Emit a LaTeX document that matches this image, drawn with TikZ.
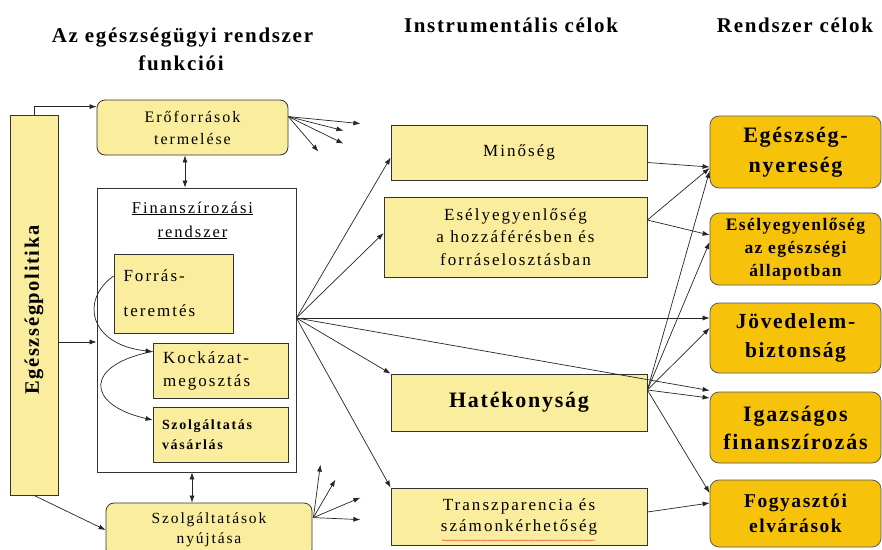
\documentclass[tikz,border=0pt]{standalone}
\usepackage{fontspec}
\setmainfont{Liberation Serif}
\newfontfamily\lsf{Liberation Serif}[LetterSpace=12]
\newfontfamily\lsb{Liberation Serif}[LetterSpace=8]
\usetikzlibrary{arrows.meta,calc,decorations.pathmorphing}
\definecolor{lyel}{RGB}{250,237,158}
\definecolor{goldy}{RGB}{247,194,10}
\newcommand\myfs[2]{\fontsize{#1}{#2}\selectfont}
\begin{document}
\begin{tikzpicture}[x=1pt,y=-1pt,
  ybox/.style={draw=black!80, fill=lyel, line width=0.8pt, inner sep=0pt, align=center},
  rybox/.style={ybox, rounded corners=8pt},
  gbox/.style={draw=black!65, fill=goldy, line width=0.8pt, rounded corners=9pt, inner sep=0pt, align=center},
  arr/.style={-{Latex[length=7pt,width=5pt]}, line width=0.7pt, draw=black!85},
  darr/.style={{Latex[length=7pt,width=5pt]}-{Latex[length=7pt,width=5pt]}, line width=0.7pt, draw=black!85},
  ttl/.style={font=\lsb\bfseries\myfs{21}{26}, inner sep=0pt, anchor=base},
  plain/.style={inner sep=0pt, anchor=base}]
\useasboundingbox (0,0) rectangle (882,549);
\clip (0,0) rectangle (882,549);
\fill[white] (0,0) rectangle (882,549);

% titles
\node[ttl] (t1a) at (182.5,42) {Az egészségügyi rendszer};
\node[ttl] (t1b) at (181,70) {funkciói};
\node[ttl] (t2) at (511,32) {Instrumentális célok};
\node[ttl] (t3) at (795,32) {Rendszer célok};

% left column
\node[ybox, minimum width=48, minimum height=380] (pol) at (34,305) {};
\node[rotate=90, inner sep=0pt, font=\lsb\bfseries\myfs{20.5}{24}] (poltxt) at ($(pol.center)+(0,5)$) {Egészségpolitika};

\node[rybox, minimum width=191, minimum height=55, font=\lsf\myfs{16}{22}] (ero) at (192.5,127.5) {Erőforrások\\termelése};

\node[draw=black!80, fill=white, line width=0.8pt, minimum width=199, minimum height=284, inner sep=0pt] (fin) at (196.5,330) {};
\node[plain, font=\lsf\myfs{16.5}{24}] (fint1) at (192.5,213) {\underline{Finanszírozási}};
\node[plain, font=\lsf\myfs{16.5}{24}] (fint2) at (192.5,237) {\underline{rendszer}};

\node[ybox, minimum width=119, minimum height=79, align=left, text width=100, font=\lsf\myfs{17}{35}] (forr) at (173.5,293.5) {Forrás-\\teremtés};
\node[ybox, minimum width=135, minimum height=55, align=left, text width=115, font=\lsf\myfs{17}{23}] (kock) at (220.5,370.5) {Kockázat-\\megosztás};
\node[ybox, minimum width=135, minimum height=55, align=left, text width=117, font=\lsf\bfseries\myfs{14}{20}] (szv) at (220.5,434.5) {Szolgáltatás\\vásárlás};

\node[rybox, minimum width=206, minimum height=54, font=\lsf\myfs{15.5}{20}] (szny) at (209,530) {Szolgáltatások\\nyújtása};

% instrumental goals
\node[ybox, minimum width=256, minimum height=55, font=\lsf\myfs{17}{22}] (min) at (519,152.5) {Minőség};
\node[ybox, minimum width=263, minimum height=80, font=\lsf\myfs{17}{22.5}] (esi) at (515.5,237) {Esélyegyenlőség\\a hozzáférésben és\\forráselosztásban};
\node[ybox, minimum width=256, minimum height=57, font=\lsb\bfseries\myfs{22}{26}] (hat) at (519,402.5) {Hatékonyság};
\node[ybox, minimum width=256, minimum height=57, font=\lsf\myfs{17}{21}] (tra) at (519,516.5) {Transzparencia és\\számonkérhetőség};

% system goals
\node[gbox, minimum width=171, minimum height=72, font=\lsb\bfseries\myfs{22}{30}] (eg) at (795.5,152) {Egészség-\\nyereség};
\node[gbox, minimum width=171, minimum height=72, font=\lsb\bfseries\myfs{17.5}{23}] (esa) at (795.5,249) {Esélyegyenlőség\\az egészségi\\állapotban};
\node[gbox, minimum width=171, minimum height=70, font=\lsb\bfseries\myfs{21.5}{29}] (jov) at (795.5,338) {Jövedelem-\\biztonság};
\node[gbox, minimum width=171, minimum height=71, font=\lsb\bfseries\myfs{22}{28}] (iga) at (795.5,427.5) {Igazságos\\finanszírozás};
\node[gbox, minimum width=171, minimum height=67, font=\lsb\bfseries\myfs{19.5}{25}] (fog) at (795.5,513.5) {Fogyasztói\\elvárások};

% spell-check wave
\draw[red!75, line width=0.45pt, decorate, decoration={snake, amplitude=0.7pt, segment length=3pt}]
  ($(tra.south)+(-77,-5)$) -- ($(tra.south)+(76,-5)$);

% connectors from health policy
\draw[arr] (pol.north) |- ($(ero.north west)+(0,7)$);
\draw[arr] ($(pol.east)+(0,37)$) -- ($(fin.west)+(0,12)$);
\draw[arr] (pol.south) -- (szny.west);

% double arrows
\draw[darr] ([xshift=-7.5pt]ero.south) -- ([xshift=-7.5pt]ero.south |- fin.north);
\draw[darr] ([xshift=-4.5pt]fin.south) -- ([xshift=-4.5pt]fin.south |- szny.north);

% fans from resource production
\coordinate (eroO) at ($(ero.north east)+(0,17)$);
\coordinate (e1) at ($(eroO)+(72,7)$);
\coordinate (e2) at ($(eroO)+(55,14)$);
\coordinate (e3) at ($(eroO)+(55,27)$);
\coordinate (e4) at ($(eroO)+(30,35)$);
\foreach \t in {e1,e2,e3,e4} \draw[arr] (eroO) -- (\t);

% fans from service delivery
\coordinate (sznyO) at ($(szny.north east)+(1,15)$);
\coordinate (s1) at ($(sznyO)+(7,-53)$);
\coordinate (s2) at ($(sznyO)+(22,-38)$);
\coordinate (s3) at ($(sznyO)+(47,-20)$);
\coordinate (s4) at ($(sznyO)+(47,2)$);
\foreach \t in {s1,s2,s3,s4} \draw[arr] (sznyO) -- (\t);

% curves inside financing system
\draw[arr] ($(forr.west)+(0,-17.5)$) .. controls ($(forr.west)+(-34,6.5)$) and ($(forr.west)+(-24,51.5)$) .. ($(kock.west)+(0,-19)$);
\draw[arr] ($(kock.west)+(0,-19)$) .. controls ($(kock.west)+(-68,-6)$) and ($(kock.west)+(-68,34)$) .. ($(szv.west)+(0,-14.5)$);

% from financing system
\coordinate (finO) at ($(fin.east)+(0,-12)$);
\draw[arr] (finO) -- ($(min.west)+(0,5)$);
\draw[arr] (finO) -- ($(esi.west)+(0,-4)$);
\draw[arr] (finO) -- (jov.west |- finO);
\draw[arr] (finO) -- ($(iga.west)+(0,-37)$);
\draw[arr] (finO) -- (hat.north west);
\draw[arr] (finO) -- (tra.north west);

% instrumental to system goals
\draw[arr] ($(min.east)+(0,10)$) -- ($(eg.west)+(0,15)$);
\coordinate (esiO) at ($(esi.east)+(0,-17)$);
\draw[arr] (esiO) -- ($(eg.west)+(0,16)$);
\draw[arr] (esiO) -- ($(esa.west)+(0,-14)$);
\coordinate (hatO) at ($(hat.east)+(0,-12.5)$);
\draw[arr] (hatO) -- ($(eg.west)+(0,19)$);
\draw[arr] (hatO) -- ($(esa.west)+(0,-7)$);
\draw[arr] (hatO) -- ($(jov.west)+(0,-10)$);
\draw[arr] (hatO) -- ($(iga.west)+(0,-29.5)$);
\draw[arr] (hatO) -- ($(fog.west)+(0,-20.5)$);
\coordinate (traO) at ($(tra.east)+(0,-4.5)$);
\draw[arr] (traO) -- ($(fog.west)+(0,-10.5)$);
\end{tikzpicture}
\end{document}
